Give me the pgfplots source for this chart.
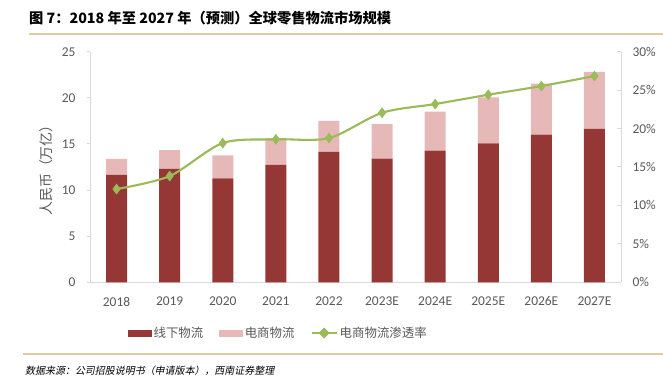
\documentclass[border=0pt]{standalone}
\usepackage{pgfplots}
\pgfplotsset{compat=1.18}
\usepackage{fontspec}
\setmainfont{Carlito}
\newfontfamily\cjk{Noto Sans CJK SC}
\newfontfamily\cjkit[FakeSlant=0.2]{Noto Sans CJK SC}
\definecolor{darkred}{HTML}{953735}
\definecolor{pinkc}{HTML}{E6B9B8}
\definecolor{greenc}{HTML}{9BBB59}
\definecolor{tanc}{HTML}{E3C9A0}
\definecolor{axgray}{HTML}{D9D9D9}
\definecolor{txtgray}{HTML}{595959}

\pgfplotstableread{
x offline online
0 11.64 1.73
1 12.29 2.03
2 11.28 2.49
3 12.72 2.90
4 14.13 3.36
5 13.41 3.76
6 14.27 4.23
7 15.07 4.99
8 16.01 5.53
9 16.63 6.18
}\bars
\pgfplotstableread{
x rate
0 12.13
1 13.82
2 18.11
3 18.60
4 18.76
5 22.05
6 23.19
7 24.40
8 25.53
9 26.83
}\rate

\begin{document}
\begin{tikzpicture}
\useasboundingbox (0,0) rectangle (663bp,386bp);
\node[anchor=west, inner sep=0, font=\cjk\bfseries\fontsize{14.3}{16}\selectfont] at (29bp,368bp) {图 7：2018 年至 2027 年（预测）全球零售物流市场规模};
\draw[tanc, line width=2.5bp] (29bp,352bp) -- (663bp,352bp);
\draw[tanc, line width=2.5bp] (23bp,32bp) -- (663bp,32bp);
\node[anchor=west, inner sep=0, font=\cjkit\fontsize{10}{12}\selectfont] at (25bp,15bp) {数据来源：公司招股说明书（申请版本），西南证券整理};

\begin{axis}[
  at={(90bp,103.7bp)}, anchor=south west,
  scale only axis, width=531bp, height=230.6bp,
  xmin=-0.5, xmax=9.5, ymin=0, ymax=25,
  ybar stacked, bar width=21bp,
  axis y line*=left, axis x line*=bottom,
  axis line style={axgray, line width=1bp},
  xtick={0,...,9},
  xticklabels={2018,2019,2020,2021,2022,2023E,2024E,2025E,2026E,2027E},
  ytick={0,5,...,25},
  /pgf/number format/assume math mode=true,
  major x tick style={draw=none},
  major y tick style={axgray, line width=1bp},
  tick align=outside, major tick length=3bp,
  tick label style={font=\fontsize{13.5}{15}\selectfont, text=txtgray},
  yticklabel style={xshift=-8bp},
  xticklabel style={yshift=-8bp},
  ylabel={\cjk 人民币（万亿）},
  ylabel style={at={(axis description cs:-0.083,0.5)}, anchor=center, font=\fontsize{14}{16}\selectfont, text=txtgray},
]
\addplot[fill=darkred, draw=none] table[x=x, y=offline] {\bars};
\addplot[fill=pinkc, draw=none] table[x=x, y=online] {\bars};
\end{axis}

\begin{axis}[
  at={(90bp,103.7bp)}, anchor=south west,
  scale only axis, width=531bp, height=230.6bp,
  xmin=-0.5, xmax=9.5, ymin=0, ymax=30,
  axis y line*=right, axis x line=none,
  axis line style={axgray, line width=1bp},
  ytick={0,5,...,30},
  /pgf/number format/assume math mode=true,
  yticklabel={\pgfmathprintnumber{\tick}\%},
  major y tick style={axgray, line width=1bp},
  tick align=inside, major tick length=4bp,
  tick label style={font=\fontsize{13.5}{15}\selectfont, text=txtgray},
  yticklabel style={xshift=8bp},
  legend columns=3,
  legend style={at={(axis description cs:0.355,-0.22)}, anchor=center, draw=none,
    font=\cjk\fontsize{12.5}{14}\selectfont, text=txtgray,
    /tikz/every even column/.append style={column sep=14bp}},
]
\addlegendimage{legend image code/.code={\fill[darkred] (0bp,-3bp) rectangle (23bp,3bp);}}
\addlegendentry{线下物流}
\addlegendimage{legend image code/.code={\fill[pinkc] (0bp,-3bp) rectangle (23bp,3bp);}}
\addlegendentry{电商物流}
\addplot[greenc, line width=2.1bp, smooth, tension=0.5, mark=diamond*, mark size=5bp, mark options={fill=greenc, draw=greenc, line width=0.5bp},
  legend image code/.code={\draw[greenc, line width=2.1bp] (0bp,0bp) -- (25bp,0bp); \fill[greenc] (12.5bp,0bp) +(-4bp,0) -- +(0,4bp) -- +(4bp,0) -- +(0,-4bp) -- cycle;}]
  table[x=x, y=rate] {\rate};
\addlegendentry{电商物流渗透率}
\end{axis}
\end{tikzpicture}
\end{document}
